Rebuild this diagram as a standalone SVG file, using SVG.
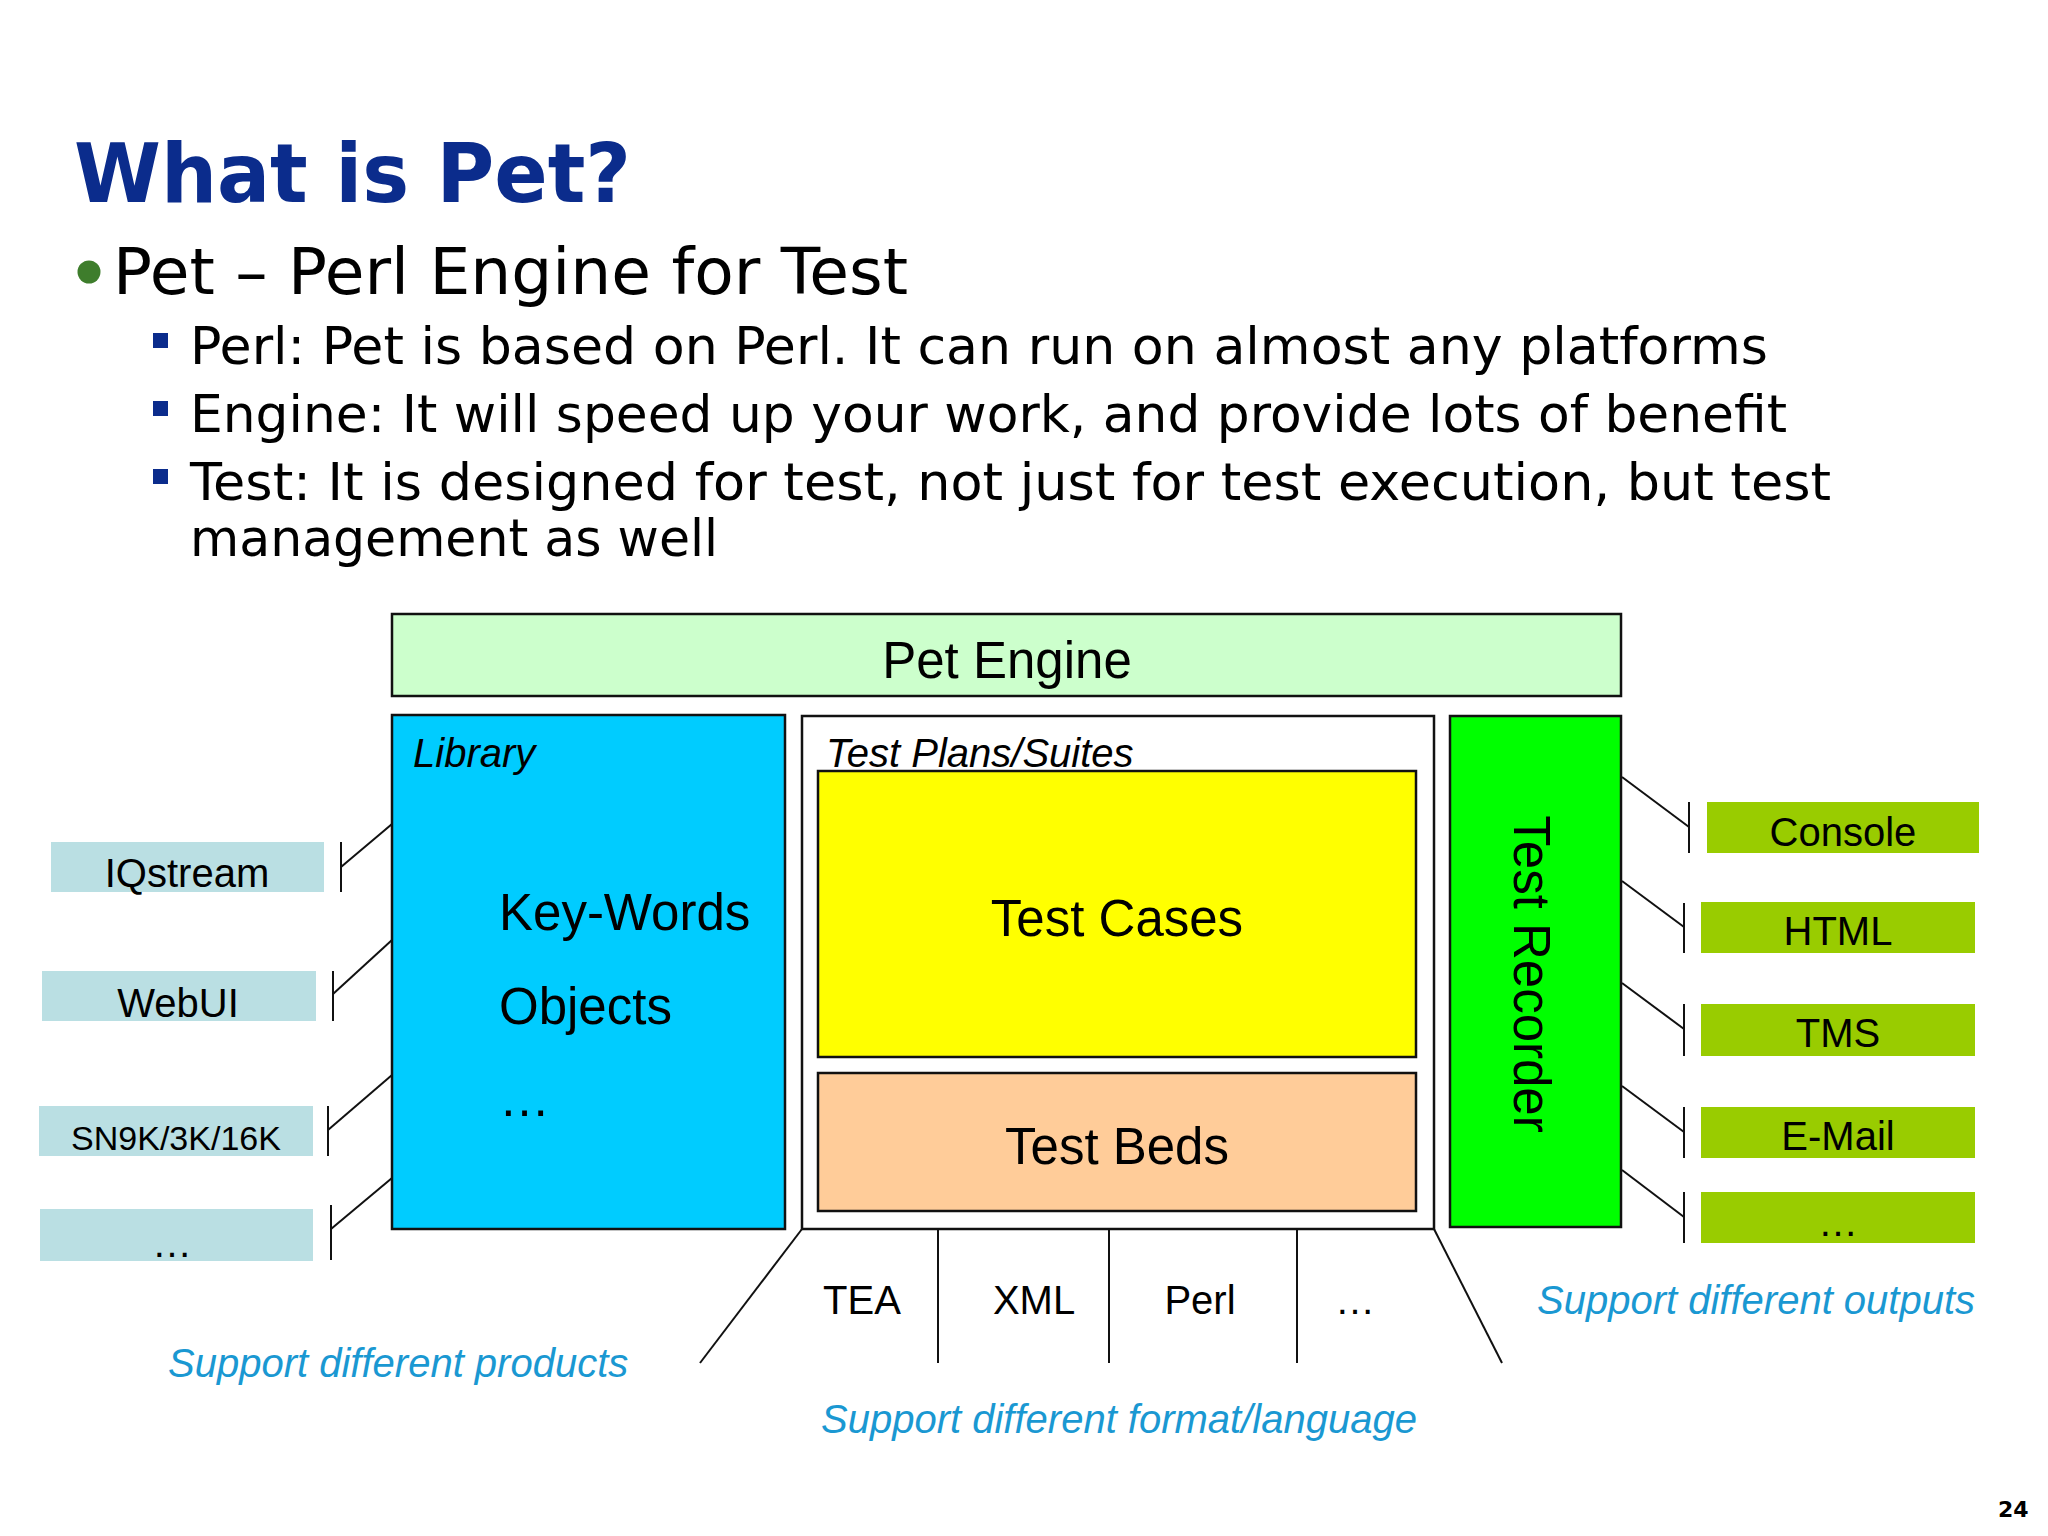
<svg xmlns="http://www.w3.org/2000/svg" width="2048" height="1536" viewBox="0 0 2048 1536">
<style>
.verd{font-family:"DejaVu Sans","Liberation Sans",sans-serif;fill:#000}
.title{font-family:"DejaVu Sans","Liberation Sans",sans-serif;font-weight:bold;fill:#0B2C8C}
.ar{font-family:"Liberation Sans",Arial,sans-serif;fill:#000}
.it{font-style:italic}
.note{font-family:"Liberation Sans",Arial,sans-serif;font-style:italic;fill:#1A98D2;font-size:40px}
.box{stroke:#111;stroke-width:2.5}
.src{fill:#BADFE3}
.out{fill:#99CC00}
.ln{stroke:#111;stroke-width:2;fill:none}
</style>
<rect width="2048" height="1536" fill="#FFFFFF"/>

<g id="title">
<text class="title" x="74" y="202" font-size="82" textLength="557" lengthAdjust="spacingAndGlyphs">What is Pet?</text>
</g>

<g id="bullets">
<circle cx="89" cy="272" r="11.5" fill="#3E7D2C"/>
<text class="verd" x="113" y="294" font-size="64" textLength="795" lengthAdjust="spacingAndGlyphs">Pet – Perl Engine for Test</text>
<rect x="153" y="333" width="15" height="15" fill="#0B2C8C"/>
<text class="verd" x="190" y="364" font-size="51" textLength="1578" lengthAdjust="spacingAndGlyphs">Perl: Pet is based on Perl. It can run on almost any platforms</text>
<rect x="153" y="401" width="15" height="15" fill="#0B2C8C"/>
<text class="verd" x="190" y="432" font-size="51" textLength="1597" lengthAdjust="spacingAndGlyphs">Engine: It will speed up your work, and provide lots of benefit</text>
<rect x="153" y="469" width="15" height="15" fill="#0B2C8C"/>
<text class="verd" x="190" y="500" font-size="51" textLength="1641" lengthAdjust="spacingAndGlyphs">Test: It is designed for test, not just for test execution, but test</text>
<text class="verd" x="190" y="556" font-size="51" textLength="528" lengthAdjust="spacingAndGlyphs">management as well</text>
</g>

<g id="connectors">
<!-- left product ticks and links -->
<line class="ln" x1="341" y1="842" x2="341" y2="892"/>
<line class="ln" x1="341" y1="867" x2="392" y2="824"/>
<line class="ln" x1="333" y1="971" x2="333" y2="1021"/>
<line class="ln" x1="333" y1="994" x2="392" y2="940"/>
<line class="ln" x1="328" y1="1106" x2="328" y2="1156"/>
<line class="ln" x1="328" y1="1130" x2="392" y2="1075"/>
<line class="ln" x1="331" y1="1205" x2="331" y2="1260"/>
<line class="ln" x1="331" y1="1229" x2="392" y2="1178"/>
<!-- right output ticks and links -->
<line class="ln" x1="1689" y1="802" x2="1689" y2="853"/>
<line class="ln" x1="1622" y1="777" x2="1689" y2="827"/>
<line class="ln" x1="1684" y1="903" x2="1684" y2="953"/>
<line class="ln" x1="1622" y1="881" x2="1684" y2="927"/>
<line class="ln" x1="1684" y1="1004" x2="1684" y2="1056"/>
<line class="ln" x1="1622" y1="983" x2="1684" y2="1029"/>
<line class="ln" x1="1684" y1="1107" x2="1684" y2="1158"/>
<line class="ln" x1="1622" y1="1086" x2="1684" y2="1132"/>
<line class="ln" x1="1684" y1="1192" x2="1684" y2="1243"/>
<line class="ln" x1="1622" y1="1170" x2="1684" y2="1217"/>
<!-- format fan -->
<line class="ln" x1="802" y1="1229" x2="700" y2="1363"/>
<line class="ln" x1="938" y1="1229" x2="938" y2="1363"/>
<line class="ln" x1="1109" y1="1229" x2="1109" y2="1363"/>
<line class="ln" x1="1297" y1="1229" x2="1297" y2="1363"/>
<line class="ln" x1="1434" y1="1229" x2="1502" y2="1363"/>
</g>

<g id="pet-engine">
<rect class="box" x="392" y="614" width="1229" height="82" fill="#CCFFCC"/>
<text class="ar" x="1007" y="678" font-size="51" text-anchor="middle">Pet Engine</text>
</g>

<g id="library">
<rect class="box" x="392" y="715" width="393" height="514" fill="#00CCFF"/>
<text class="ar it" x="413" y="767" font-size="40">Library</text>
<text class="ar" x="499" y="930" font-size="51">Key-Words</text>
<text class="ar" x="499" y="1024" font-size="51">Objects</text>
<text class="ar" x="499" y="1116" font-size="51">…</text>
</g>

<g id="test-plans">
<rect class="box" x="802" y="716" width="632" height="513" fill="#FFFFFF"/>
<text class="ar it" x="826" y="767" font-size="40">Test Plans/Suites</text>
</g>

<g id="test-cases">
<rect class="box" x="818" y="771" width="598" height="286" fill="#FFFF00"/>
<text class="ar" x="1117" y="936" font-size="51" text-anchor="middle">Test Cases</text>
</g>

<g id="test-beds">
<rect class="box" x="818" y="1073" width="598" height="138" fill="#FFCC99"/>
<text class="ar" x="1117" y="1164" font-size="51" text-anchor="middle">Test Beds</text>
</g>

<g id="test-recorder">
<rect class="box" x="1450" y="716" width="171" height="511" fill="#00FF00"/>
<text class="ar" transform="translate(1514,974) rotate(90)" font-size="51" text-anchor="middle">Test Recorder</text>
</g>

<g id="src-iqstream">
<rect class="src" x="51" y="842" width="273" height="50"/>
<text class="ar" x="187" y="887" font-size="40" text-anchor="middle">IQstream</text>
</g>
<g id="src-webui">
<rect class="src" x="42" y="971" width="274" height="50"/>
<text class="ar" x="178" y="1017" font-size="40" text-anchor="middle">WebUI</text>
</g>
<g id="src-sn9k">
<rect class="src" x="39" y="1106" width="274" height="50"/>
<text class="ar" x="176" y="1150" font-size="34" text-anchor="middle">SN9K/3K/16K</text>
</g>
<g id="src-more">
<rect class="src" x="40" y="1209" width="273" height="52"/>
<text class="ar" x="172" y="1257" font-size="40" text-anchor="middle">…</text>
</g>

<g id="out-console">
<rect class="out" x="1707" y="802" width="272" height="51"/>
<text class="ar" x="1843" y="846" font-size="40" text-anchor="middle">Console</text>
</g>
<g id="out-html">
<rect class="out" x="1701" y="902" width="274" height="51"/>
<text class="ar" x="1838" y="945" font-size="40" text-anchor="middle">HTML</text>
</g>
<g id="out-tms">
<rect class="out" x="1701" y="1004" width="274" height="52"/>
<text class="ar" x="1838" y="1047" font-size="40" text-anchor="middle">TMS</text>
</g>
<g id="out-email">
<rect class="out" x="1701" y="1107" width="274" height="51"/>
<text class="ar" x="1838" y="1150" font-size="40" text-anchor="middle">E-Mail</text>
</g>
<g id="out-more">
<rect class="out" x="1701" y="1192" width="274" height="51"/>
<text class="ar" x="1838" y="1236" font-size="40" text-anchor="middle">…</text>
</g>

<g id="formats">
<text class="ar" x="862" y="1314" font-size="40" text-anchor="middle">TEA</text>
<text class="ar" x="1034" y="1314" font-size="40" text-anchor="middle">XML</text>
<text class="ar" x="1200" y="1314" font-size="40" text-anchor="middle">Perl</text>
<text class="ar" x="1355" y="1314" font-size="40" text-anchor="middle">…</text>
</g>

<g id="notes">
<text class="note" x="168" y="1377">Support different products</text>
<text class="note" x="821" y="1433">Support different format/language</text>
<text class="note" x="1537" y="1314">Support different outputs</text>
</g>

<g id="page-number">
<text class="title" x="1998" y="1517" font-size="22" style="fill:#000">24</text>
</g>
</svg>
